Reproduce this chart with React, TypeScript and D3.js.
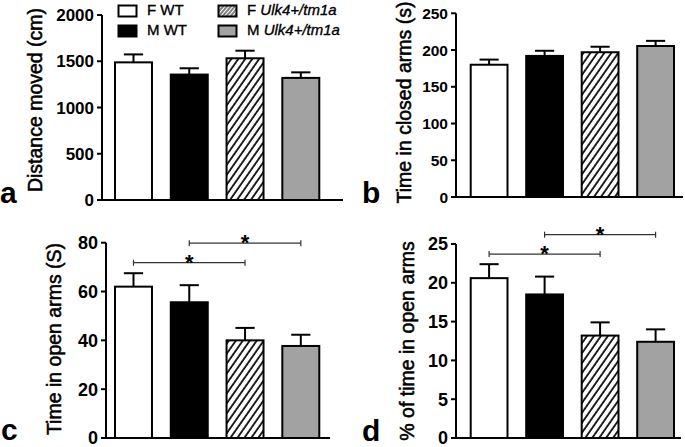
import React from "react";
import * as d3 from "d3";

// ---- Data ----
const groups = ["F WT", "M WT", "F Ulk4+/tm1a", "M Ulk4+/tm1a"];
const groupPrefix = ["F", "M", "F", "M"];
const groupSuffix = ["WT", "WT", "Ulk4+/tm1a", "Ulk4+/tm1a"];
const groupItalic = [false, false, true, true];
const groupFill = ["white", "black", "url(#hatch)", "#a2a2a2"];

const distanceMean = [1488, 1356, 1532, 1320];
const distanceSem = [86, 68, 82, 60];
const distanceTicks = [0, 500, 1000, 1500, 2000];

const closedMean = [180, 192, 197, 205.5];
const closedSem = [7, 7, 7.5, 7];
const closedTicks = [0, 50, 100, 150, 200, 250];

const openMean = [62, 55.6, 40, 37.7];
const openSem = [5.5, 7, 5.1, 4.6];
const openTicks = [0, 20, 40, 60, 80];
const openSig = [
  { from: 0, to: 2, y: 71.8 },
  { from: 1, to: 3, y: 79.8 },
];

const percentMean = [20.6, 18.5, 13.2, 12.4];
const percentSem = [1.8, 2.3, 1.7, 1.6];
const percentTicks = [0, 5, 10, 15, 20, 25];
const percentSig = [
  { from: 0, to: 2, y: 23.7 },
  { from: 1, to: 3, y: 26.2 },
];

type Sig = { from: number; to: number; y: number };
type PanelCfg = {
  letter: string;
  label: string;
  mean: number[];
  sem: number[];
  ticks: number[];
  sig?: Sig[];
  axisX: number;
  yTop: number;
  yBottom: number;
  barStart: number;
  barEnd: number;
  axisEnd: number;
  labelX: number;
  labelCY: number;
  letterX: number;
  letterY: number;
  tickFont: number;
};

const panels: PanelCfg[] = [
  {
    letter: "a", label: "Distance moved (cm)", mean: distanceMean, sem: distanceSem, ticks: distanceTicks,
    axisX: 102, yTop: 15, yBottom: 200, barStart: 115, barEnd: 319.3, axisEnd: 343,
    labelX: 42, labelCY: 100, letterX: 0, letterY: 203, tickFont: 17,
  },
  {
    letter: "b", label: "Time in closed arms (s)", mean: closedMean, sem: closedSem, ticks: closedTicks,
    axisX: 456, yTop: 13.3, yBottom: 197, barStart: 470.7, barEnd: 674, axisEnd: 683,
    labelX: 411, labelCY: 102.5, letterX: 362, letterY: 203, tickFont: 15.5,
  },
  {
    letter: "c", label: "Time in open arms (S)", mean: openMean, sem: openSem, ticks: openTicks, sig: openSig,
    axisX: 106, yTop: 242.7, yBottom: 438, barStart: 115, barEnd: 319.3, axisEnd: 330,
    labelX: 61, labelCY: 339, letterX: 1, letterY: 440, tickFont: 18,
  },
  {
    letter: "d", label: "% of time in open arms", mean: percentMean, sem: percentSem, ticks: percentTicks, sig: percentSig,
    axisX: 456, yTop: 244, yBottom: 438, barStart: 470.7, barEnd: 674, axisEnd: 681,
    labelX: 414, labelCY: 341, letterX: 362, letterY: 441, tickFont: 18,
  },
];

const FONT = "'Liberation Sans', Arial, Helvetica, sans-serif";

function Panel({ p }: { p: PanelCfg }) {
  const x = d3.scaleBand<string>().domain(groups).range([p.barStart, p.barEnd]).paddingInner(0.337).paddingOuter(0);
  const yMax = p.ticks[p.ticks.length - 1];
  const y = d3.scaleLinear().domain([0, yMax]).range([p.yBottom, p.yTop]);
  const bw = x.bandwidth();
  const capW = bw * 0.52;
  return (
    <g>
      {groups.map((g, i) => {
        const x0 = x(g)!;
        const cx = x0 + bw / 2;
        const top = y(p.mean[i]);
        const errTop = y(p.mean[i] + p.sem[i]);
        return (
          <g key={g}>
            <line x1={cx} x2={cx} y1={top} y2={errTop} stroke="black" strokeWidth={2} />
            <line x1={cx - capW / 2} x2={cx + capW / 2} y1={errTop} y2={errTop} stroke="black" strokeWidth={2} />
            <rect x={x0} y={top} width={bw} height={y(0) - top} fill={groupFill[i]} stroke="black" strokeWidth={2} />
          </g>
        );
      })}
      <line x1={p.axisX} x2={p.axisX} y1={y(yMax)} y2={y(0)} stroke="black" strokeWidth={2} />
      <line x1={p.axisX} x2={p.axisEnd} y1={y(0)} y2={y(0)} stroke="black" strokeWidth={2} />
      {p.ticks.map((t) => (
        <g key={t}>
          <line x1={p.axisX - 5} x2={p.axisX} y1={y(t)} y2={y(t)} stroke="black" strokeWidth={2} />
          <text
            x={p.axisX - 8}
            y={y(t)}
            dy="0.36em"
            textAnchor="end"
            fontFamily={FONT}
            fontWeight="bold"
            fontSize={p.tickFont}
          >
            {t}
          </text>
        </g>
      ))}
      <text
        transform={`translate(${p.labelX},${p.labelCY}) rotate(-90)`}
        textAnchor="middle"
        fontFamily={FONT}
        fontSize={19.5}
        stroke="black"
        strokeWidth={0.55}
      >
        {p.label}
      </text>
      <text x={p.letterX} y={p.letterY} fontFamily={FONT} fontWeight="bold" fontSize={30}>
        {p.letter}
      </text>
      {p.sig &&
        p.sig.map((s, k) => {
          const x1 = x(groups[s.from])! + bw / 2;
          const x2 = x(groups[s.to])! + bw / 2;
          const yy = y(s.y);
          return (
            <g key={k}>
              <line x1={x1} x2={x2} y1={yy} y2={yy} stroke="#333" strokeWidth={1.2} />
              <line x1={x1} x2={x1} y1={yy - 3} y2={yy + 3} stroke="#333" strokeWidth={1.2} />
              <line x1={x2} x2={x2} y1={yy - 3} y2={yy + 3} stroke="#333" strokeWidth={1.2} />
              <text x={(x1 + x2) / 2} y={yy + 7} textAnchor="middle" fontFamily={FONT} fontWeight="bold" fontSize={22}>
                *
              </text>
            </g>
          );
        })}
    </g>
  );
}

function Legend() {
  const cols = [118.5, 218.5];
  const rows = [5.5, 25.5];
  return (
    <g>
      {groups.map((g, i) => {
        const col = i < 2 ? 0 : 1;
        const row = i % 2;
        const bx = cols[col];
        const by = rows[row];
        return (
          <g key={g}>
            <rect x={bx} y={by} width={18} height={11} fill={i === 2 ? "url(#hatchLegend)" : groupFill[i]} stroke="black" strokeWidth={2} />
            <text x={bx + 28.5} y={by + 9} fontFamily={FONT} fontSize={15} stroke="black" strokeWidth={0.35}>
              {groupPrefix[i]}{" "}
              <tspan fontStyle={groupItalic[i] ? "italic" : "normal"}>{groupSuffix[i]}</tspan>
            </text>
          </g>
        );
      })}
    </g>
  );
}

export default function App() {
  return (
    <svg
      width={685}
      height={447}
      viewBox="0 0 685 447"
      style={{ position: "absolute", left: 0, top: 0, background: "white" }}
    >
      <defs>
        <pattern id="hatch" patternUnits="userSpaceOnUse" width={5.7} height={20} patternTransform="rotate(35)">
          <line x1={1} x2={1} y1={-2} y2={22} stroke="black" strokeWidth={1.7} />
        </pattern>
        <pattern id="hatchLegend" patternUnits="userSpaceOnUse" width={3} height={10} patternTransform="rotate(40)">
          <line x1={1} x2={1} y1={-2} y2={12} stroke="black" strokeWidth={1} />
        </pattern>
      </defs>
      <rect x={0} y={0} width={685} height={447} fill="white" />
      {panels.map((p) => (
        <Panel key={p.letter} p={p} />
      ))}
      <Legend />
    </svg>
  );
}
